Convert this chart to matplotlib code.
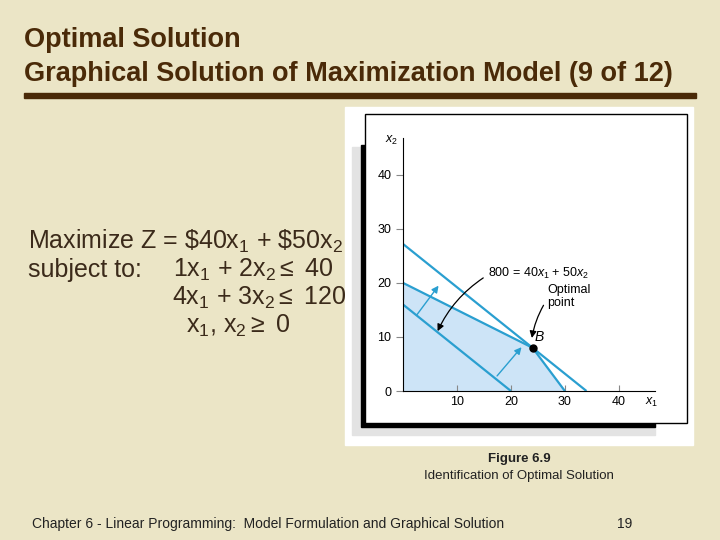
import matplotlib
matplotlib.use("Agg")
import matplotlib.pyplot as plt
from matplotlib.patches import Rectangle, Polygon

plt.rcParams['font.family'] = 'Liberation Sans'
plt.rcParams['mathtext.fontset'] = 'custom'
plt.rcParams['mathtext.rm'] = 'Liberation Sans'
plt.rcParams['mathtext.it'] = 'Liberation Sans:italic'

# Data
feasible_x = [0, 0, 24, 30]
feasible_y = [0, 20, 8, 0]
c1_x, c1_y = [0, 24], [20, 8]        # x1 + 2x2 = 40 (binding part)
c2_x, c2_y = [24, 30], [8, 0]        # 4x1 + 3x2 = 120 (binding part)
z800_x, z800_y = [0, 20], [16, 0]    # 40x1 + 50x2 = 800
zopt_x, zopt_y = [0, 34], [27.2, 0]  # 40x1 + 50x2 = 1360
opt_point = (24, 8)
xticks = [10, 20, 30, 40]
yticks = [0, 10, 20, 30, 40]

BG = '#ebe5c6'
BROWN = '#4a2a08'
BLUE = '#2a9fd0'
fig = plt.figure(figsize=(7.2, 5.4), dpi=100, facecolor=BG)

def fr(x0, y0, x1, y1, **kw):
    fig.patches.append(Rectangle((x0/720, 1-y1/540), (x1-x0)/720, (y1-y0)/540,
                                 transform=fig.transFigure, **kw))

# frame layers
fr(345, 107, 693, 445, color='white', zorder=0)
fr(352, 147, 655, 435, color='#e3e3e3', zorder=1)
fr(361, 145, 655, 427, color='black', zorder=2)
fr(365, 114, 687, 423, facecolor='white', edgecolor='black', lw=1, zorder=3)

# title
fig.text(24/720, 1-40/540, 'Optimal Solution', fontsize=19.5, fontweight='bold', color=BROWN, va='center')
fig.text(24/720, 1-74/540, 'Graphical Solution of Maximization Model (9 of 12)', fontsize=19.5,
         fontweight='bold', color=BROWN, va='center')
fr(24, 93, 696, 98, color=BROWN, zorder=1)

TXT = '#3b2a1a'
fs = 18
fig.text(28/720, 1-241/540, r'Maximize Z = \$40x$_1$ + \$50x$_2$', fontsize=fs, color=TXT, va='center')
fig.text(28/720, 1-270/540, 'subject to:', fontsize=fs, color=TXT, va='center')
fig.text(173/720, 1-270/540, r'1x$_1$ + 2x$_2$$\leq$ 40', fontsize=fs, color=TXT, va='center')
fig.text(172/720, 1-298/540, r'4x$_1$ + 3x$_2$$\leq$ 120', fontsize=fs, color=TXT, va='center')
fig.text(186/720, 1-326/540, r'x$_1$, x$_2$$\geq$ 0', fontsize=fs, color=TXT, va='center')

fig.text(519/720, 1-459/540, 'Figure 6.9', fontsize=9.5, fontweight='bold', color='#222', va='center', ha='center')
fig.text(519/720, 1-476/540, 'Identification of Optimal Solution', fontsize=9.5, color='#222', va='center', ha='center')
fig.text(32/720, 1-524/540, 'Chapter 6 - Linear Programming:  Model Formulation and Graphical Solution',
         fontsize=10, color='#222', va='center')
fig.text(617/720, 1-524/540, '19', fontsize=10, color='#222', va='center')

# axes
ax = fig.add_axes([403/720, 1-391/540, 252/720, 253/540], zorder=5)
ax.patch.set_alpha(0)
ax.set_xlim(0, 46.7)
ax.set_ylim(0, 46.8)
for s in ['top', 'right']:
    ax.spines[s].set_visible(False)
ax.set_xticks(xticks)
ax.set_yticks(yticks)
ax.tick_params(labelsize=9, length=4, direction='in', color='#888')
ax.tick_params(axis='y', direction='out', length=5)
ax.add_patch(Polygon(list(zip(feasible_x, feasible_y)), closed=True, color='#cde4f7', lw=0))
for xs, ys in [(c1_x, c1_y), (c2_x, c2_y), (z800_x, z800_y), (zopt_x, zopt_y)]:
    ax.plot(xs, ys, color=BLUE, lw=1.6, solid_capstyle='butt')
ax.plot(*opt_point, 'o', color='black', ms=5)
ax.text(24.4, 9.3, 'B', fontsize=10, style='italic')
for (a, b) in [((2.2, 13.6), (6.9, 19.9)), ((17.1, 2.4), (22.3, 8.5))]:
    ax.annotate('', xy=b, xytext=a, arrowprops=dict(arrowstyle='-|>', color=BLUE, lw=1))
ax.annotate('', xy=(6.2, 10.6), xytext=(15.3, 21.2),
            arrowprops=dict(arrowstyle='-|>', color='black', lw=0.9, connectionstyle='arc3,rad=0.15'))
ax.annotate('', xy=(23.8, 9.3), xytext=(26.3, 16.3),
            arrowprops=dict(arrowstyle='-|>', color='black', lw=0.9, connectionstyle='arc3,rad=0.1'))
ax.text(15.8, 21.7, r'800 = 40$x_1$ + 50$x_2$', fontsize=9, va='center')
ax.text(26.8, 17.5, 'Optimal\npoint', fontsize=9, va='center', linespacing=1.1)
fig.text(385/720, 1-143/540, r'$x_2$', fontsize=9)
fig.text(645/720, 1-405/540, r'$x_1$', fontsize=9)

fig.savefig('out.png', dpi=100, facecolor=BG)
